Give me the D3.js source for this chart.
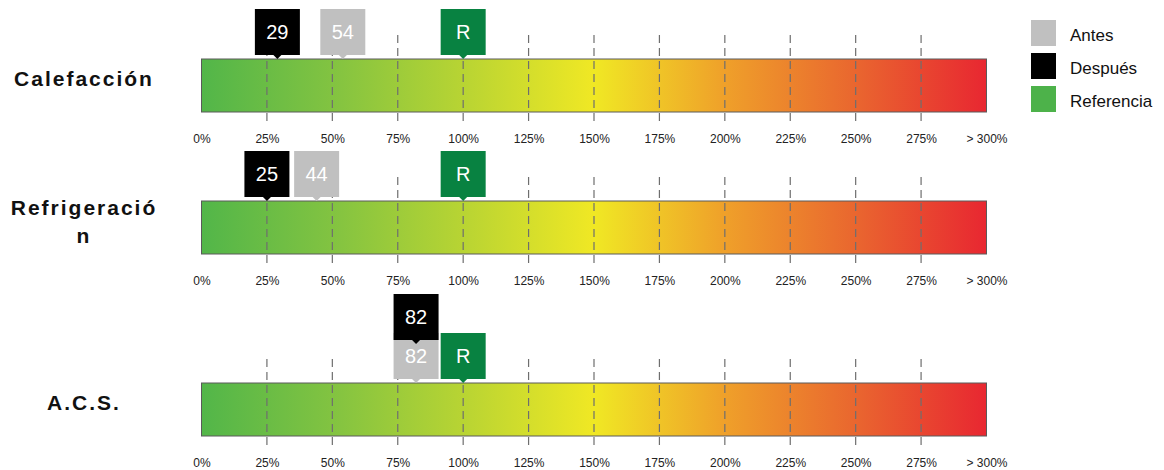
<!DOCTYPE html>
<head>
    <script src="https://d3js.org/d3.v7.min.js"></script>
    <style>
        body { margin: 0; background: #fff; }
        text { font-family: "Liberation Sans", Arial, sans-serif; }
    </style>
</head>
<body>
    <script id="chart">
        // data
        const categories = ["Calefacción", "Refrigeración", "A.C.S."];
        const labelLines = [["Calefacción"], ["Refrigeració", "n"], ["A.C.S."]];
        const antes = [54, 44, 82];
        const despues = [29, 25, 82];
        const referencia = [100, 100, 100];
        const tickValues = [0, 25, 50, 75, 100, 125, 150, 175, 200, 225, 250, 275, 300];
        const tickLabels = ["0%", "25%", "50%", "75%", "100%", "125%", "150%", "175%", "200%", "225%", "250%", "275%", "> 300%"];
        const legendLabels = ["Antes", "Después", "Referencia"];
        const legendColors = ["#c0c0c0", "#000000", "#4db24a"];
        const gradientStops = [
            { v: 0, c: "#52b649" }, { v: 50, c: "#82c341" }, { v: 100, c: "#b8d433" },
            { v: 150, c: "#f0e824" }, { v: 200, c: "#efa02a" }, { v: 250, c: "#e9662f" },
            { v: 300, c: "#e82731" }
        ];

        const svg = d3.select("body").append("svg")
            .attr("width", 1164)
            .attr("height", 470);

        const x = d3.scaleLinear().domain([0, 300]).range([201.5, 986.5]);
        const barH = 53;
        const boxW = 45, boxH = 46;

        // gradient
        const grad = svg.append("defs").append("linearGradient")
            .attr("id", "scale-grad")
            .attr("x1", "0%").attr("x2", "100%").attr("y1", "0%").attr("y2", "0%");
        grad.selectAll("stop").data(gradientStops).join("stop")
            .attr("offset", d => (d.v / 300 * 100) + "%")
            .attr("stop-color", d => d.c);

        // rows stack further when Antes/Después markers collide
        let rowY = 59;
        const rowTops = categories.map((c, i) => {
            const collide = Math.abs(x(antes[i]) - x(despues[i])) < boxW;
            if (collide && i > 0) rowY += 40;
            const t = rowY;
            rowY += 142;
            return t;
        });

        function marker(g, value, color, label, textColor, yBottom) {
            const cx = x(value);
            const m = g.append("g");
            m.append("rect")
                .attr("x", cx - boxW / 2).attr("y", yBottom - boxH)
                .attr("width", boxW).attr("height", boxH)
                .attr("fill", color);
            m.append("path")
                .attr("d", `M${cx - 4},${yBottom} L${cx + 4},${yBottom} L${cx},${yBottom + 4} Z`)
                .attr("fill", color);
            m.append("text")
                .attr("x", cx).attr("y", yBottom - boxH / 2 + 7)
                .attr("text-anchor", "middle")
                .attr("font-size", 20)
                .attr("fill", textColor)
                .text(label);
        }

        categories.forEach((cat, i) => {
            const y0 = rowTops[i];
            const g = svg.append("g");

            // category label
            const lines = labelLines[i];
            const lab = g.append("text")
                .attr("x", 84)
                .attr("text-anchor", "middle")
                .attr("font-size", 21)
                .attr("font-weight", "bold")
                .attr("letter-spacing", 2)
                .attr("fill", "#111");
            lines.forEach((l, k) => {
                lab.append("tspan")
                    .attr("x", 84)
                    .attr("y", y0 + 27 - (lines.length - 1) * 13 + k * 28)
                    .text(l);
            });

            // bar
            g.append("rect")
                .attr("x", x(0)).attr("y", y0)
                .attr("width", x(300) - x(0)).attr("height", barH)
                .attr("fill", "url(#scale-grad)")
                .attr("stroke", "#5a5a5a")
                .attr("stroke-width", 1);

            // dashed grid lines
            g.selectAll("line.grid")
                .data(tickValues.filter(v => v > 0 && v < 300))
                .join("line")
                .attr("class", "grid")
                .attr("x1", d => x(d)).attr("x2", d => x(d))
                .attr("y1", y0 - 24).attr("y2", y0 + barH + 14)
                .attr("stroke", "#6e6e6e")
                .attr("stroke-width", 1.2)
                .attr("stroke-dasharray", "8,5");

            // axis labels
            const axis = d3.axisBottom(x)
                .tickValues(tickValues)
                .tickFormat((d, k) => tickLabels[k])
                .tickSize(0)
                .tickPadding(0);
            const ax = g.append("g")
                .attr("transform", `translate(0,${y0 + barH + 22})`)
                .call(axis);
            ax.select(".domain").remove();
            ax.selectAll("text")
                .attr("font-size", 12)
                .attr("font-family", "Liberation Sans, Arial, sans-serif")
                .attr("fill", "#222");

            // markers
            const yB = y0 - 4;
            const collide = Math.abs(x(antes[i]) - x(despues[i])) < boxW;
            marker(g, referencia[i], "#088241", "R", "#fff", yB);
            marker(g, antes[i], "#c0c0c0", String(antes[i]), "#fff", yB);
            marker(g, despues[i], "#000", String(despues[i]), "#fff", collide ? yB - 39 : yB);
        });

        // legend
        const leg = svg.append("g");
        legendLabels.forEach((l, i) => {
            leg.append("rect")
                .attr("x", 1031).attr("y", 20 + i * 33)
                .attr("width", 25).attr("height", 26)
                .attr("fill", legendColors[i]);
            leg.append("text")
                .attr("x", 1070).attr("y", 41 + i * 33)
                .attr("font-size", 17)
                .attr("fill", "#111")
                .text(l);
        });
    </script>
</body>
